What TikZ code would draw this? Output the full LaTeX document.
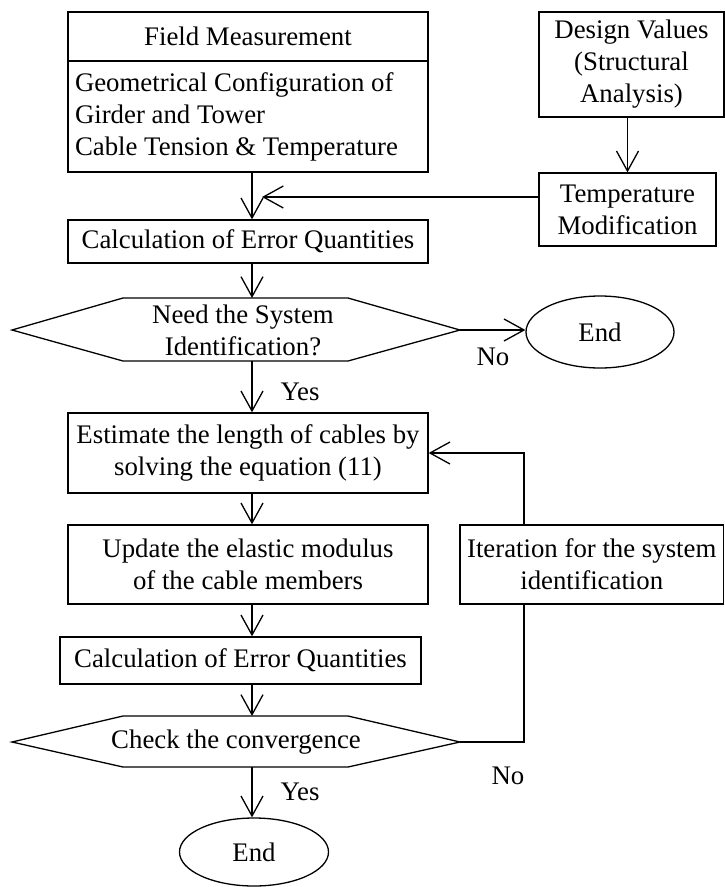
\documentclass[tikz,border=0pt]{standalone}
\usepackage{fontspec}
\setmainfont{Liberation Serif}
\usetikzlibrary{arrows.meta,shapes.geometric}
\begin{document}
\begin{tikzpicture}[x=1pt,y=-1pt,
  lw/.style={line width=1.3pt},
  txt/.style={font=\fontsize{26.8}{32}\selectfont},
  box/.style={draw, line width=1.3pt, inner sep=0pt, align=center, txt},
  arr/.style={line width=1.3pt, -{Straight Barb[length=20pt,width=22pt,line width=1.3pt]}},
  lbl/.style={txt, inner sep=0pt, align=center},
  term/.style={draw, line width=1.3pt, ellipse, inner sep=0pt, txt}]
\useasboundingbox (0,0) rectangle (725,887);
\fill[white] (0,0) rectangle (725,887);

% main column x
\coordinate (mx) at (252,0);

% Field measurement
\node[box, minimum width=360pt, minimum height=49pt] (fm) at (248,36.5) {Field Measurement};
\node[box, text width=346pt, inner xsep=7pt, minimum height=111pt, align=flush left] (fmb) at (248,116.5)
  {Geometrical Configuration of\\Girder and Tower\\Cable Tension \& Temperature};

% Design values and temperature modification
\node[box, minimum width=185pt, minimum height=105pt] (dv) at (631.5,64.5) {Design Values\\(Structural\\Analysis)};
\node[box, minimum width=177pt, minimum height=73pt] (tm) at (627.5,209.5) {Temperature\\Modification};

% Calculation 1
\node[box, minimum width=360pt, minimum height=43pt] (c1) at (248,241.5) {Calculation of Error Quantities};

% Decision 1
\coordinate (q1w) at (12,330);
\coordinate (q1e) at (460,330);
\coordinate (q1n) at (252,298);
\coordinate (q1s) at (252,361);
\draw[lw] (q1w) -- (123,298) -- (348,298) -- (q1e) -- (348,361) -- (123,361) -- cycle;
\node[lbl] (q1) at (243,330) {Need the System\\Identification?};

\node[term, minimum width=148pt, minimum height=72pt] (e1) at (600,332) {End};
\node[lbl] (no1) at (493,357) {No};
\node[lbl] (yes1) at (300,392) {Yes};

% Estimate
\node[box, minimum width=360pt, minimum height=80pt] (est) at (248,453) {Estimate the length of cables by\\solving the equation (11)};
% Update
\node[box, minimum width=360pt, minimum height=79pt] (upd) at (248,564.5) {Update the elastic modulus\\of the cable members};
% Iteration
\node[box, minimum width=263.5pt, minimum height=79pt] (iter) at (591.75,564.5) {Iteration for the system\\identification};
% Calculation 2
\node[box, minimum width=361pt, minimum height=47pt] (c2) at (240.5,660.5) {Calculation of Error Quantities};

% Decision 2
\coordinate (q2w) at (12,742);
\coordinate (q2e) at (460,742);
\coordinate (q2n) at (252,716);
\coordinate (q2s) at (252,767);
\draw[lw] (q2w) -- (123,716) -- (348,716) -- (q2e) -- (348,767) -- (123,767) -- cycle;
\node[lbl] (q2) at (236,742) {Check the convergence};

\node[lbl] (yes2) at (300,792) {Yes};
\node[lbl] (no2) at (508,776) {No};
\node[term, minimum width=149pt, minimum height=68pt] (e2) at (254,852) {End};

% connectors
\draw[arr] (fmb.south -| mx) -- (c1.north -| mx);
\draw[arr] (tm.north |- dv.south) -- (tm.north);
\coordinate (tj) at (262,197);
\draw[arr] (tj -| tm.west) -- (tj);
\draw[arr] (c1.south -| mx) -- (q1n);
\draw[arr] (q1e) -- (q1e -| e1.west);
\draw[arr] (q1s) -- (est.north -| mx);
\draw[arr] (est.south -| mx) -- (upd.north -| mx);
\draw[arr] (upd.south -| mx) -- (c2.north -| mx);
\draw[arr] (c2.south -| mx) -- (q2n);
\draw[arr] (q2s) -- (e2.north -| mx);

% feedback loop
\coordinate (lx) at (524,742);
\draw[lw] (q2e) -- (lx) -- (lx |- iter.south);
\draw[arr] (lx |- iter.north) -- (lx |- est.east) -- (est.east);
\end{tikzpicture}
\end{document}
